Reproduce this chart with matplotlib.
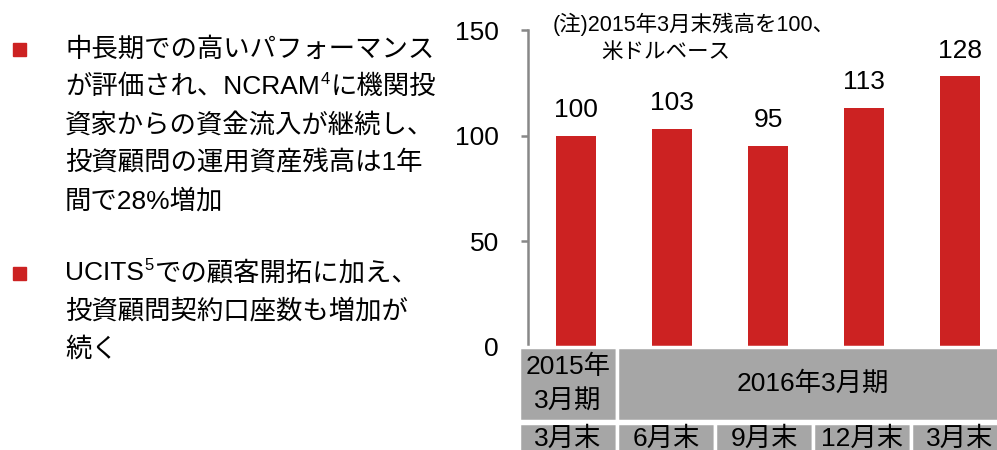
import matplotlib.pyplot as plt
from matplotlib.patches import Rectangle

plt.rcParams['font.family'] = ['Liberation Sans', 'Noto Sans CJK JP', 'DejaVu Sans']

# data
periods = ['3月末', '6月末', '9月末', '12月末', '3月末']
values = [100, 103, 95, 113, 128]
fiscal_years = [('2015年\n3月期', 0, 1), ('2016年3月期', 1, 5)]
yticks = [0, 50, 100, 150]
note_lines = ['(注)2015年3月末残高を100、', '米ドルベース']
# each line is a list of (text, superscript?) pieces
bullets = [
    [[('中長期での高いパフォーマンス', False)],
     [('が評価され、NCRAM', False), ('4', True), ('に機関投', False)],
     [('資家からの資金流入が継続し、', False)],
     [('投資顧問の運用資産残高は1年', False)],
     [('間で28%増加', False)]],
    [[('UCITS', False), ('5', True), ('での顧客開拓に加え、', False)],
     [('投資顧問契約口座数も増加が', False)],
     [('続く', False)]],
]

RED = '#CC2222'
GRAY = '#A6A6A6'
AXIS = '#888888'
W, H = 997, 450

fig = plt.figure(figsize=(W / 100, H / 100), dpi=100)
renderer = fig.canvas.get_renderer()


def fx(px):
    return px / W


def fy(py):
    return 1 - py / H


def draw_line(x0, y0, pieces):
    """Draw a line made of normal and superscript pieces, left to right."""
    x = x0
    for txt, sup in pieces:
        if sup:
            t = fig.text(fx(x + 1), fy(y0 - 7), txt, fontsize=12,
                         ha='left', va='center')
        else:
            t = fig.text(fx(x), fy(y0), txt, fontsize=19,
                         ha='left', va='center')
        bb = t.get_window_extent(renderer)
        x = bb.x1 + (1 if sup else 0)


# left bullet text
line_gap = 38
starts = [49, 273]
for lines, y0 in zip(bullets, starts):
    fig.add_artist(Rectangle((fx(13), fy(y0 + 6.5)), 13 / W, 13 / H,
                             transform=fig.transFigure, color=RED))
    for i, pieces in enumerate(lines):
        draw_line(65, y0 + i * line_gap, pieces)

# bar chart
ax = fig.add_axes([fx(528), fy(347), 480 / W, 317 / H])
x = range(len(values))
ax.bar(x, values, width=0.41, color=RED)
for xi, v in zip(x, values):
    ax.annotate(str(v), (xi, v), xytext=(0, 10), textcoords='offset points',
                ha='center', va='bottom', fontsize=19)
ax.set_xlim(-0.5, 4.5)
ax.set_ylim(0, 150)
ax.set_yticks(yticks)
ax.set_xticks([])
for s in ['top', 'right', 'bottom']:
    ax.spines[s].set_visible(False)
ax.spines['left'].set_color(AXIS)
ax.spines['left'].set_linewidth(1.8)
ax.tick_params(axis='y', length=5, width=1.8, color=AXIS, pad=16,
               labelsize=19)
ax.patch.set_alpha(0)

fig.text(fx(553), fy(24), note_lines[0], fontsize=15.5, ha='left', va='center')
fig.text(fx(601), fy(52), note_lines[1], fontsize=15.5, ha='left', va='center')

# table under the bars
tab = fig.add_axes([fx(519), 0, 490 / W, 103 / H])
tab.set_xlim(-0.5, 4.5)
tab.set_ylim(103, 0)
tab.axis('off')
row1 = (0, 74)
row2 = (76, 115)
for label, a, b in fiscal_years:
    tab.add_patch(Rectangle((a - 0.5, row1[0]), b - a, row1[1] - row1[0],
                            facecolor=GRAY, edgecolor='white', lw=2.5,
                            clip_on=False))
    tab.text((a + b - 1) / 2, (row1[0] + row1[1]) / 2, label, fontsize=19,
             ha='center', va='center', linespacing=1.5)
for i, p in enumerate(periods):
    tab.add_patch(Rectangle((i - 0.5, row2[0]), 1, row2[1] - row2[0],
                            facecolor=GRAY, edgecolor='white', lw=2.5,
                            clip_on=False))
    tab.text(i, 92, p, fontsize=19, ha='center', va='center')

fig.savefig('out.png', dpi=100)
